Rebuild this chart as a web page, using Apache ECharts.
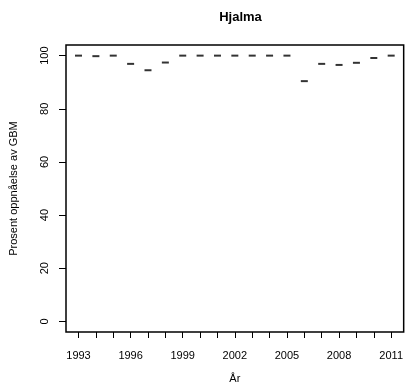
<!DOCTYPE html>
<html><head><meta charset="utf-8">
<script src="https://cdn.jsdelivr.net/npm/echarts@6/dist/echarts.min.js"></script>
<style>html,body{margin:0;padding:0;background:#fff}#c{width:406px;height:389px}</style>
</head><body><div id="c"></div>
<script>
const years = [1993,1994,1995,1996,1997,1998,1999,2000,2001,2002,2003,2004,2005,2006,2007,2008,2009,2010,2011];
const values = [100,99.8,100,96.9,94.5,97.4,100,100,100,100,100,100,100,90.4,96.9,96.5,97.3,99.1,100];
const xLabelYears = [1993,1996,1999,2002,2005,2008,2011];
const yTicks = [0,20,40,60,80,100];
const titleText = 'Hjalma';
const xTitle = 'År';
const yTitle = 'Prosent oppnåelse av GBM';

const font = '"Liberation Sans", Arial, sans-serif';
const chart = echarts.init(document.getElementById('c'), null, {renderer:'canvas'});
chart.setOption({
  animation:false,
  backgroundColor:'#fff',
  title:{text:titleText,left:235.5,textAlign:'center',top:6,
    textStyle:{fontFamily:font,fontWeight:'bold',fontSize:13,color:'#000'}},
  grid:{left:66,right:1,top:45,bottom:56,show:true,borderColor:'#000',borderWidth:1.5,backgroundColor:'transparent'},
  xAxis:{type:'value',min:1992.28,max:2011.72,
    name:xTitle,nameLocation:'middle',nameGap:41,
    nameTextStyle:{fontFamily:font,fontSize:11,color:'#000'},
    axisLine:{show:false,onZero:false},splitLine:{show:false},
    axisTick:{show:true,inside:false,length:6,customValues:years,lineStyle:{color:'#000',width:1}},
    axisLabel:{customValues:xLabelYears,margin:18,fontFamily:font,fontSize:11,color:'#000',formatter:v=>String(v)}},
  yAxis:{type:'value',min:-4,max:104,
    name:yTitle,nameLocation:'middle',nameGap:47,nameRotate:90,
    nameTextStyle:{fontFamily:font,fontSize:11,color:'#000'},
    axisLine:{show:false,onZero:false},splitLine:{show:false},
    axisTick:{show:true,inside:false,length:7,customValues:yTicks,lineStyle:{color:'#000',width:1}},
    axisLabel:{customValues:yTicks,rotate:90,margin:16,fontFamily:font,fontSize:11,color:'#000'}},
  series:[{type:'scatter',data:years.map((y,i)=>[y,values[i]]),
    symbol:'rect',symbolSize:[7,2],itemStyle:{color:'#000'}}]
});
</script></body></html>
